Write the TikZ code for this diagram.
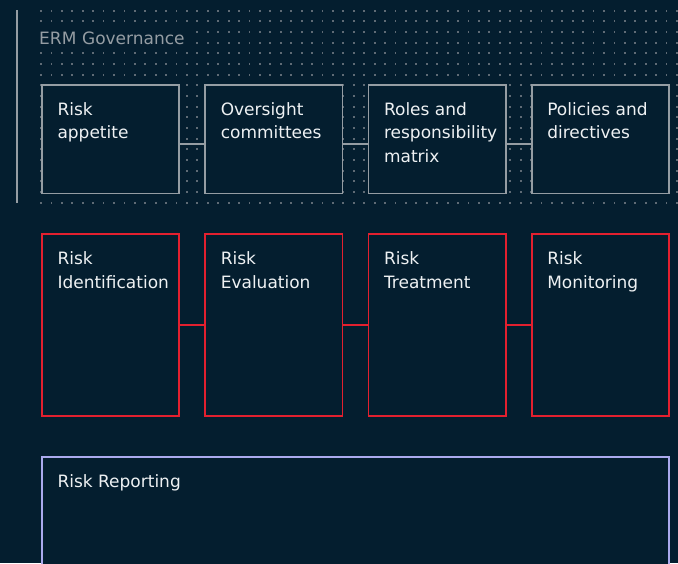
\documentclass[tikz,border=0pt]{standalone}
\usepackage{fontspec}
\setmainfont{DejaVu Sans}
\definecolor{bg}{HTML}{041E2F}
\definecolor{dotc}{HTML}{5F6B75}
\definecolor{govgray}{HTML}{959DA3}
\definecolor{riskred}{HTML}{E3202F}
\definecolor{lav}{HTML}{ABAAEE}
\definecolor{txt}{HTML}{EEF1F3}
\tikzset{
  govbox/.style={draw=govgray, line width=1.9pt, fill=bg, minimum width=137.3pt, minimum height=108.5pt, anchor=north west, inner sep=0pt},
  redbox/.style={draw=riskred, line width=1.9pt, fill=bg, minimum width=137.3pt, minimum height=182pt, anchor=north west, inner sep=0pt},
  repbox/.style={draw=lav, line width=1.9pt, fill=bg, minimum width=627pt, minimum height=160pt, anchor=north west, inner sep=0pt},
  boxtext/.style={anchor=north west, inner sep=0pt, align=left, text=txt, font=\fontsize{17}{23.5}\selectfont},
  govlink/.style={draw=govgray, line width=1.9pt},
  redlink/.style={draw=riskred, line width=1.9pt},
}
\begin{document}
\begin{tikzpicture}[x=1pt,y=-1pt]
\useasboundingbox (0,0) rectangle (678,563);
\clip (0,0) rectangle (678,563);
\fill[bg] (0,0) rectangle (678,563);
% dot grid
\foreach \j in {1,...,19}{
  \foreach \k in {0,...,61}{
    \fill[dotc] ({41+\k*10.426-0.9},{\j*10.67-0.9}) rectangle ++(1.8,1.8);
  }
}
% vertical rule
\coordinate (vt) at (17,10.3);
\coordinate (vb) at (17,203.3);
\draw[govgray, line width=1.6pt] (vt) -- (vb);
% label
\node[anchor=base west, fill=bg, text=govgray, text width=152pt, align=left, inner xsep=1pt, inner ysep=3.5pt, font=\fontsize{17}{20}\selectfont] (erm) at (38,44.3) {ERM Governance};
% governance boxes
\node[govbox] (g1) at (41,84) {};
\node[govbox] (g2) at (204.27,84) {};
\node[govbox] (g3) at (367.54,84) {};
\node[govbox] (g4) at (530.81,84) {};
\draw[govlink] ([yshift=-5pt]g1.east) -- ([yshift=-5pt]g2.west);
\draw[govlink] ([yshift=-5pt]g2.east) -- ([yshift=-5pt]g3.west);
\draw[govlink] ([yshift=-5pt]g3.east) -- ([yshift=-5pt]g4.west);
\node[boxtext] (tg1) at ([xshift=16.3pt,yshift=-18.1pt]g1.north west) {Risk\\appetite};
\node[boxtext] (tg2) at ([xshift=16.3pt,yshift=-18.1pt]g2.north west) {Oversight\\committees};
\node[boxtext] (tg3) at ([xshift=16.3pt,yshift=-18.1pt]g3.north west) {Roles and\\responsibility\\matrix};
\node[boxtext] (tg4) at ([xshift=16.3pt,yshift=-18.1pt]g4.north west) {Policies and\\directives};
% process boxes
\node[redbox] (r1) at (41,233.3) {};
\node[redbox] (r2) at (204.27,233.3) {};
\node[redbox] (r3) at (367.54,233.3) {};
\node[redbox] (r4) at (530.81,233.3) {};
\draw[redlink] (r1.east) -- (r2.west);
\draw[redlink] (r2.east) -- (r3.west);
\draw[redlink] (r3.east) -- (r4.west);
\node[boxtext] (tr1) at ([xshift=16.3pt,yshift=-18.1pt]r1.north west) {Risk\\Identification};
\node[boxtext] (tr2) at ([xshift=16.3pt,yshift=-18.1pt]r2.north west) {Risk\\Evaluation};
\node[boxtext] (tr3) at ([xshift=16.3pt,yshift=-18.1pt]r3.north west) {Risk\\Treatment};
\node[boxtext] (tr4) at ([xshift=16.3pt,yshift=-18.1pt]r4.north west) {Risk\\Monitoring};
% reporting
\node[repbox] (rep) at (41,456) {};
\node[boxtext] (trep) at ([xshift=16.3pt,yshift=-18.1pt]rep.north west) {Risk Reporting};
\end{tikzpicture}
\end{document}
